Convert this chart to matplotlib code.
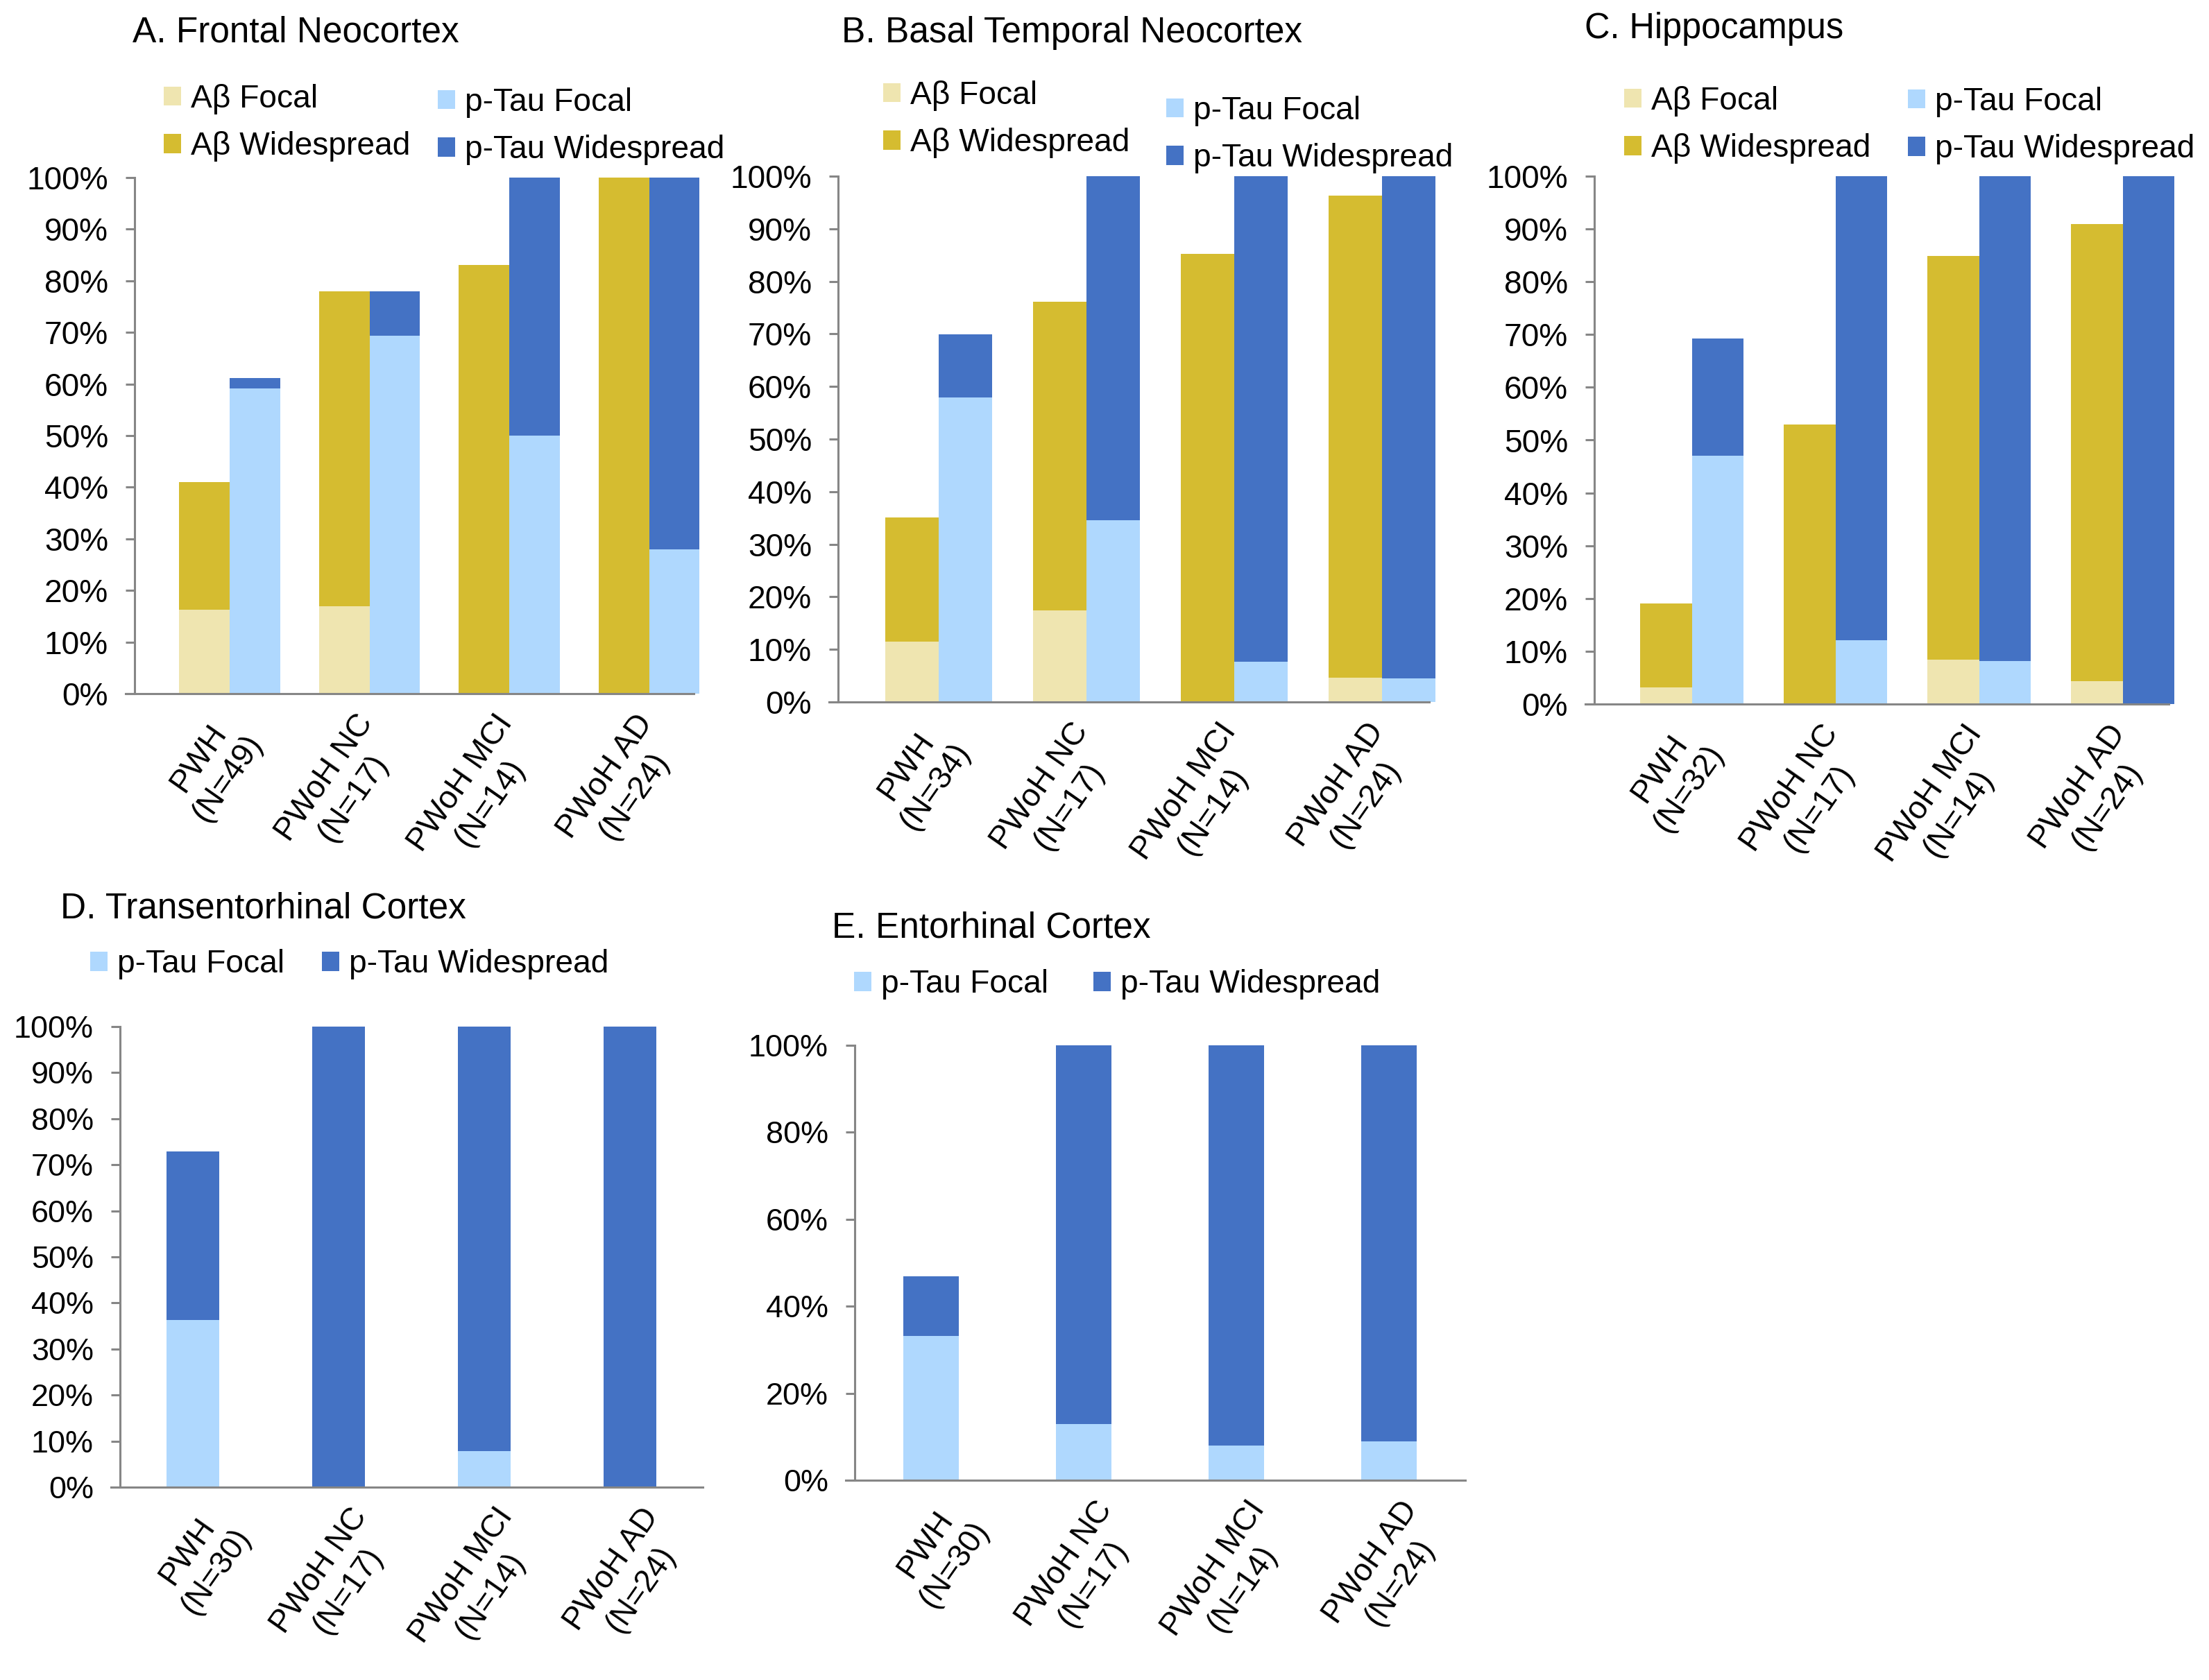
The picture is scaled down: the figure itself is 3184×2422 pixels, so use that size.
import matplotlib
matplotlib.use('Agg')
import matplotlib.pyplot as plt
from matplotlib.patches import Patch
from matplotlib.ticker import PercentFormatter, MultipleLocator
import matplotlib.transforms as mtransforms
import numpy as np

plt.rcParams['font.family'] = ['Liberation Sans', 'DejaVu Sans']

W, H = 3184, 2422
DPI = 200

# ---------------- data ----------------
groups_A = ['PWH\n(N=49)', 'PWoH NC\n(N=17)', 'PWoH MCI\n(N=14)', 'PWoH AD\n(N=24)']
groups_B = ['PWH\n(N=34)', 'PWoH NC\n(N=17)', 'PWoH MCI\n(N=14)', 'PWoH AD\n(N=24)']
groups_C = ['PWH\n(N=32)', 'PWoH NC\n(N=17)', 'PWoH MCI\n(N=14)', 'PWoH AD\n(N=24)']
groups_D = ['PWH\n(N=30)', 'PWoH NC\n(N=17)', 'PWoH MCI\n(N=14)', 'PWoH AD\n(N=24)']
groups_E = ['PWH\n(N=30)', 'PWoH NC\n(N=17)', 'PWoH MCI\n(N=14)', 'PWoH AD\n(N=24)']

a_ab_focal = [16.3, 16.9, 0.0, 0.0]
a_ab_wide = [24.7, 61.0, 83.1, 100.0]
a_tau_focal = [59.1, 69.4, 50.0, 27.9]
a_tau_wide = [2.0, 8.6, 50.0, 72.1]

b_ab_focal = [11.5, 17.4, 0.0, 4.6]
b_ab_wide = [23.6, 58.7, 85.2, 91.7]
b_tau_focal = [57.9, 34.6, 7.6, 4.5]
b_tau_wide = [12.0, 65.4, 92.4, 95.5]

c_ab_focal = [3.1, 0.0, 8.4, 4.4]
c_ab_wide = [15.9, 52.9, 76.5, 86.5]
c_tau_focal = [47.0, 12.1, 8.1, 0.0]
c_tau_wide = [22.2, 87.9, 91.9, 100.0]

d_tau_focal = [36.3, 0.0, 7.8, 0.0]
d_tau_wide = [36.6, 100.0, 92.2, 100.0]

e_tau_focal = [33.2, 12.9, 8.0, 8.9]
e_tau_wide = [13.7, 87.1, 92.0, 91.1]

lbl_ab_focal = 'Aβ Focal'
lbl_ab_wide = 'Aβ Widespread'
lbl_tau_focal = 'p-Tau Focal'
lbl_tau_wide = 'p-Tau Widespread'

# ---------------- style ----------------
C_AB_F = '#EFE5B0'
C_AB_W = '#D5BC30'
C_TAU_F = '#AFD8FE'
C_TAU_W = '#4472C4'
AXC = '#868686'

fig = plt.figure(figsize=(W / DPI, H / DPI), dpi=DPI)


def px_axes(l, r, t, b):
    return fig.add_axes([l / W, 1 - b / H, (r - l) / W, (b - t) / H])


def style_axes(ax, labels, step, ytick_fs, xtick_fs, slot_px):
    ax.set_xlim(-0.5, 3.5)
    ax.set_ylim(0, 100)
    for s in ('top', 'right'):
        ax.spines[s].set_visible(False)
    for s in ('left', 'bottom'):
        ax.spines[s].set_color(AXC)
        ax.spines[s].set_linewidth(1.1)
    ext = 13.0 / slot_px
    ax.spines['bottom'].set_bounds(-0.5 - ext, 3.5)
    ax.yaxis.set_major_locator(MultipleLocator(step))
    ax.yaxis.set_major_formatter(PercentFormatter(decimals=0))
    ax.tick_params(axis='y', length=4.7, width=1.1, color=AXC, pad=9.0,
                   labelsize=ytick_fs)
    ax.set_xticks(range(len(labels)))
    ax.set_xticklabels(labels, rotation=55, ha='right', va='top',
                       rotation_mode='anchor', multialignment='center',
                       fontsize=xtick_fs)
    ax.tick_params(axis='x', length=0, pad=8)
    off = mtransforms.ScaledTranslation(14 / DPI, 0, fig.dpi_scale_trans)
    for t in ax.get_xticklabels():
        t.set_transform(t.get_transform() + off)


def add_legend(entries, x_px, y_px, fs=16.6):
    handles = [Patch(facecolor=c, edgecolor='none') for c, _ in entries]
    labels = [l for _, l in entries]
    fig.legend(handles, labels, loc='center left',
               bbox_to_anchor=(x_px / W, 1 - y_px / H),
               bbox_transform=fig.transFigure, frameon=False, fontsize=fs,
               handlelength=0.55, handleheight=0.55, handletextpad=0.3,
               labelspacing=0.53, borderpad=0, borderaxespad=0)


def title(txt, x_px, y_px, fs):
    fig.text(x_px / W, 1 - y_px / H, txt, ha='left', va='center', fontsize=fs)


def paired(ax, abf, abw, tf, tw, width=0.36):
    x = np.arange(len(abf))
    ax.bar(x, abf, width, color=C_AB_F, linewidth=0, clip_on=False)
    ax.bar(x, abw, width, bottom=abf, color=C_AB_W, linewidth=0, clip_on=False)
    ax.bar(x + width, tf, width, color=C_TAU_F, linewidth=0, clip_on=False)
    ax.bar(x + width, tw, width, bottom=tf, color=C_TAU_W, linewidth=0, clip_on=False)


def single(ax, tf, tw, width=0.365):
    x = np.arange(len(tf))
    ax.bar(x, tf, width, color=C_TAU_F, linewidth=0)
    ax.bar(x, tw, width, bottom=tf, color=C_TAU_W, linewidth=0)


# ---- Panel A ----
axA = px_axes(194, 1000, 256, 1000)
paired(axA, a_ab_focal, a_ab_wide, a_tau_focal, a_tau_wide)
style_axes(axA, groups_A, 10, 16.6, 16.6, (1000 - 194) / 4)
title('A. Frontal Neocortex', 191, 47, 18.5)
add_legend([(C_AB_F, lbl_ab_focal), (C_AB_W, lbl_ab_wide)], 236, 177)
add_legend([(C_TAU_F, lbl_tau_focal), (C_TAU_W, lbl_tau_wide)], 631, 182)

# ---- Panel B ----
axB = px_axes(1208, 2060, 254, 1012)
paired(axB, b_ab_focal, b_ab_wide, b_tau_focal, b_tau_wide)
style_axes(axB, groups_B, 10, 16.6, 16.6, (2060 - 1208) / 4)
title('B. Basal Temporal Neocortex', 1213, 48, 18.5)
add_legend([(C_AB_F, lbl_ab_focal), (C_AB_W, lbl_ab_wide)], 1273, 172)
add_legend([(C_TAU_F, lbl_tau_focal), (C_TAU_W, lbl_tau_wide)], 1681, 194)

# ---- Panel C ----
axC = px_axes(2298, 3126, 254, 1015)
paired(axC, c_ab_focal, c_ab_wide, c_tau_focal, c_tau_wide)
style_axes(axC, groups_C, 10, 16.6, 16.6, (3126 - 2298) / 4)
title('C. Hippocampus', 2284, 42, 18.2)
add_legend([(C_AB_F, lbl_ab_focal), (C_AB_W, lbl_ab_wide)], 2341, 180)
add_legend([(C_TAU_F, lbl_tau_focal), (C_TAU_W, lbl_tau_wide)], 2750, 181)

# ---- Panel D ----
axD = px_axes(173, 1013, 1480, 2144)
single(axD, d_tau_focal, d_tau_wide)
style_axes(axD, groups_D, 10, 16.2, 16.4, (1013 - 173) / 4)
title('D. Transentorhinal Cortex', 87, 1310, 18.5)
add_legend([(C_TAU_F, lbl_tau_focal)], 130, 1390)
add_legend([(C_TAU_W, lbl_tau_wide)], 464, 1390)

# ---- Panel E ----
axE = px_axes(1232, 2112, 1507, 2134)
single(axE, e_tau_focal, e_tau_wide)
style_axes(axE, groups_E, 20, 16.2, 16.4, (2112 - 1232) / 4)
title('E. Entorhinal Cortex', 1199, 1338, 18.5)
add_legend([(C_TAU_F, lbl_tau_focal)], 1231, 1419)
add_legend([(C_TAU_W, lbl_tau_wide)], 1576, 1419)

fig.savefig('out.png', dpi=DPI)
